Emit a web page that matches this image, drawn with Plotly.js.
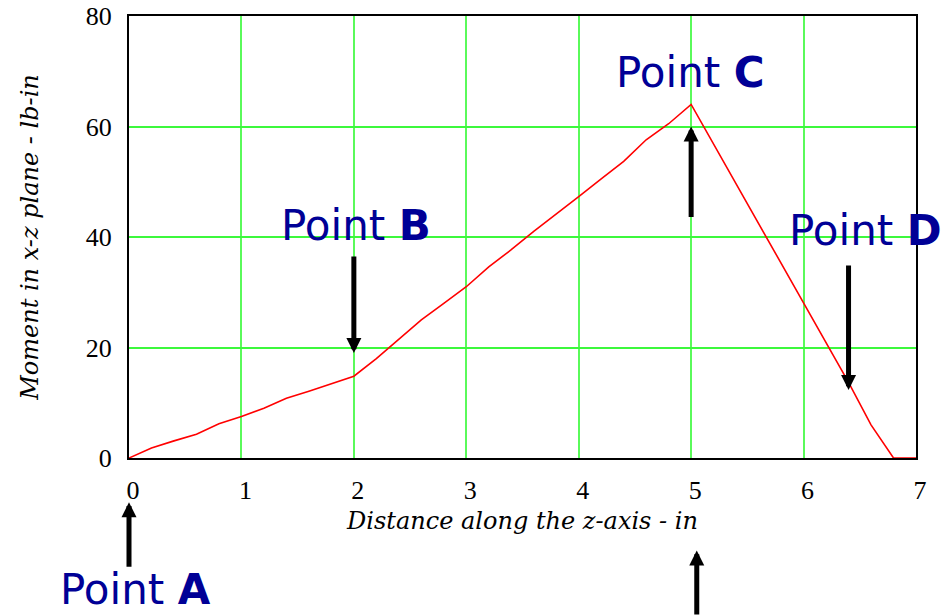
<!DOCTYPE html>
<html>
<head>
<meta charset="utf-8">
<script src="https://cdn.plot.ly/plotly-3.0.1.min.js"></script>
<style>html,body{margin:0;padding:0;background:#fff;}#chart{width:949px;height:616px;}</style>
</head>
<body>
<div id="chart"></div>
<script>
// Distance along the z-axis (in)
const distance = [0, 0.2, 0.4, 0.6, 0.8, 1.0, 1.2, 1.4, 1.6, 1.8, 2.0, 2.2, 2.4, 2.6, 2.8, 3.0, 3.2, 3.4, 3.6, 3.8, 4.0, 4.2, 4.4, 4.6, 4.8, 5.0, 5.2, 5.4, 5.6, 5.8, 6.0, 6.2, 6.4, 6.6, 6.8, 7.0];
// Moment in x-z plane (lb-in)
const moment = [0, 1.8, 3.1, 4.3, 6.2, 7.5, 9.0, 10.8, 12.1, 13.4, 14.8, 18.0, 21.5, 25.0, 28.0, 31.0, 34.6, 37.7, 41.0, 44.1, 47.3, 50.5, 53.7, 57.6, 60.5, 64.0, 56.8, 49.6, 42.4, 35.2, 28.0, 20.9, 13.7, 6.0, 0, 0];
const xTicks = [0, 1, 2, 3, 4, 5, 6, 7];
const yTicks = [0, 20, 40, 60, 80];
// Callout labels
const pointNames = ["A", "B", "C", "D"];

const labelColor = "rgb(0,0,150)";
const labelFont = {family: "DejaVu Sans, sans-serif", size: 42, color: labelColor};

function label(txt, xref, x, yref, y) {
  return {text: "Point <b>" + txt + "</b>", xref: xref, x: x, yref: yref, y: y,
          showarrow: false, font: labelFont, xanchor: "center", yanchor: "middle"};
}
function arrow(xref, x, yref, y, ay) {
  return {text: "", xref: xref, x: x, yref: yref, y: y, ax: 0, ay: ay,
          axref: "pixel", ayref: "pixel",
          showarrow: true, arrowhead: 2, arrowsize: 0.6, arrowwidth: 5, arrowcolor: "black"};
}

const annotations = [
  label(pointNames[0], "x", 0.06, "paper", -0.297),
  label(pointNames[1], "x", 2.02, "paper", 0.525),
  label(pointNames[2], "x", 4.99, "paper", 0.873),
  label(pointNames[3], "x", 6.55, "paper", 0.514),
  arrow("x", 0.0, "paper", -0.10, 66),
  arrow("x", 2.0, "y", 19.0, -98),
  arrow("x", 5.0, "y", 60.0, 92),
  arrow("x", 6.4, "y", 12.3, -126),
  arrow("x", 5.05, "paper", -0.209, 70)
];

const trace = {
  x: distance, y: moment, type: "scatter", mode: "lines",
  line: {color: "red", width: 1.6}, hoverinfo: "skip", cliponaxis: false
};

const tickFont = {family: "Liberation Serif, Times New Roman, serif", size: 26, color: "black"};
const titleFont = {family: "DejaVu Serif, serif", size: 24, color: "black"};
const layout = {
  width: 949, height: 616,
  margin: {l: 129, r: 33, t: 16, b: 158},
  paper_bgcolor: "white", plot_bgcolor: "white",
  showlegend: false,
  xaxis: {
    range: [0, 7], tickvals: xTicks, ticktext: xTicks.map(String),
    showgrid: true, gridcolor: "rgb(90,250,90)", gridwidth: 2, zeroline: false,
    showline: true, mirror: true, linecolor: "black", linewidth: 2,
    ticks: "", ticklabelstandoff: 8, ticklabelshift: 4,
    tickfont: tickFont,
    title: {text: "<i>Distance along the z-axis - in</i>", standoff: 8, font: titleFont}
  },
  yaxis: {
    range: [0, 80], tickvals: yTicks, ticktext: yTicks.map(String),
    showgrid: true, gridcolor: "rgb(60,248,60)", gridwidth: 2, zeroline: false,
    showline: true, mirror: true, linecolor: "black", linewidth: 2,
    ticks: "", ticklabelstandoff: 10,
    tickfont: tickFont,
    title: {text: "<i>Moment in x-z plane - lb-in</i>", standoff: 40, font: titleFont}
  },
  annotations: annotations
};

Plotly.newPlot("chart", [trace], layout, {staticPlot: true, displayModeBar: false});
</script>
</body>
</html>
